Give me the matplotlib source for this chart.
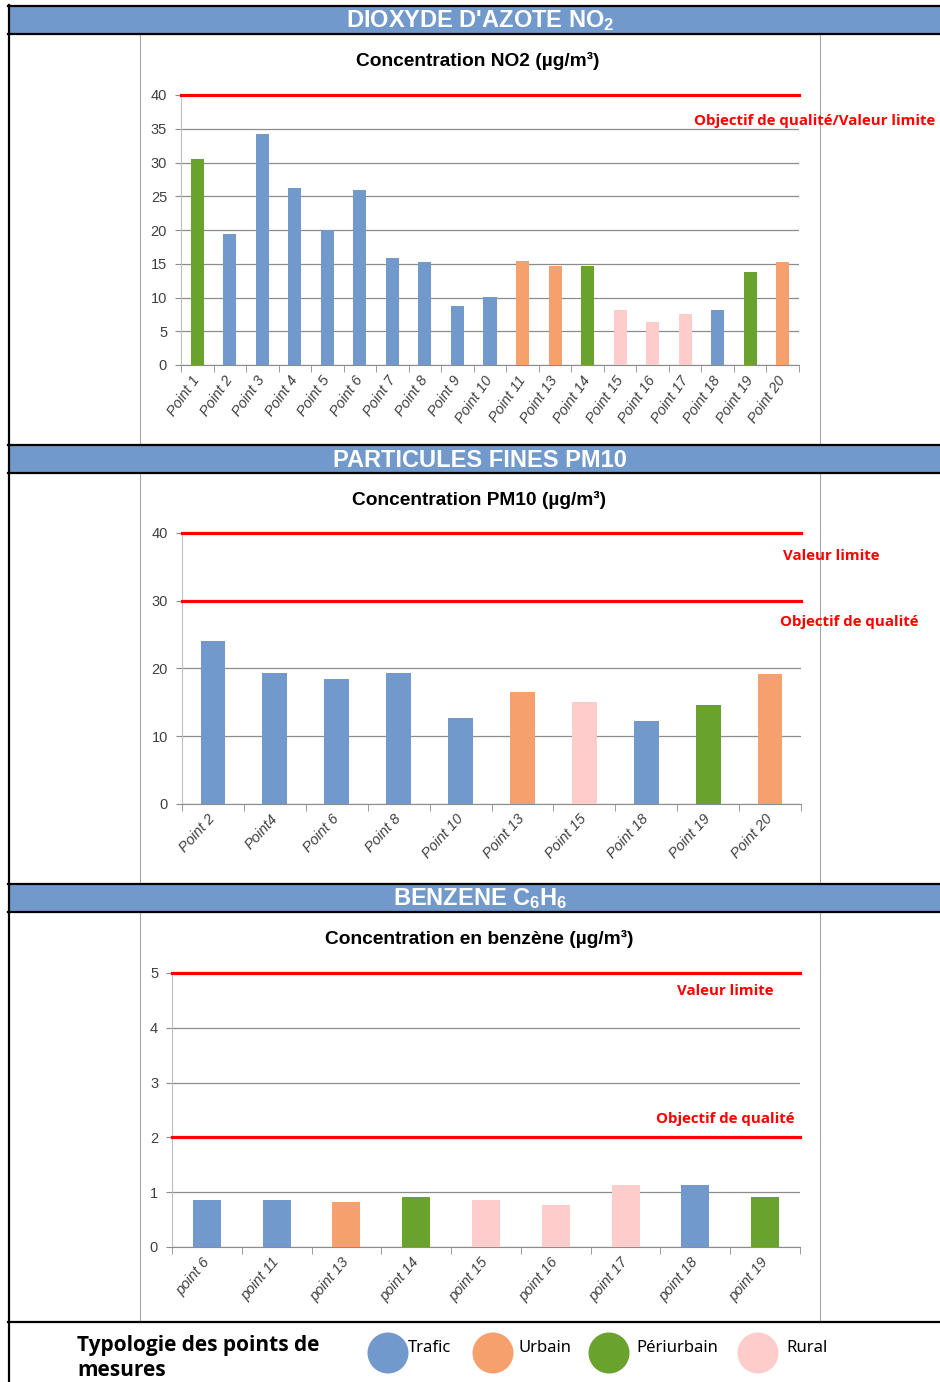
import numpy as np
import matplotlib.pyplot as plt
from matplotlib.patches import Rectangle, Circle

# Types of measuring points and their colours
types = ["Trafic", "Urbain", "Périurbain", "Rural"]
type_colors = {"Trafic": "#7299CC", "Urbain": "#F5A06D", "Périurbain": "#6AA22E", "Rural": "#FFCCCC"}

# NO2 data
no2_labels = ["Point 1", "Point 2", "Point 3", "Point 4", "Point 5", "Point 6", "Point 7", "Point 8",
              "Point 9", "Point 10", "Point 11", "Point 13", "Point 14", "Point 15", "Point 16",
              "Point 17", "Point 18", "Point 19", "Point 20"]
no2_values = [30.5, 19.4, 34.2, 26.2, 20.0, 26.0, 15.9, 15.3, 8.7, 10.1, 15.4, 14.7, 14.7,
              8.1, 6.4, 7.6, 8.2, 13.8, 15.2]
no2_types = ["Périurbain", "Trafic", "Trafic", "Trafic", "Trafic", "Trafic", "Trafic", "Trafic",
             "Trafic", "Trafic", "Urbain", "Urbain", "Périurbain", "Rural", "Rural", "Rural",
             "Trafic", "Périurbain", "Urbain"]
no2_limits = [40]

# PM10 data
pm10_labels = ["Point 2", "Point4", "Point 6", "Point 8", "Point 10", "Point 13", "Point 15",
               "Point 18", "Point 19", "Point 20"]
pm10_values = [24.0, 19.4, 18.5, 19.3, 12.7, 16.6, 15.0, 12.3, 14.6, 19.2]
pm10_types = ["Trafic", "Trafic", "Trafic", "Trafic", "Trafic", "Urbain", "Rural", "Trafic",
              "Périurbain", "Urbain"]
pm10_limits = [40, 30]

# Benzene data
benz_labels = ["point 6", "point 11", "point 13", "point 14", "point 15", "point 16", "point 17",
               "point 18", "point 19"]
benz_values = [0.86, 0.86, 0.83, 0.91, 0.86, 0.76, 1.13, 1.14, 0.91]
benz_types = ["Trafic", "Trafic", "Urbain", "Périurbain", "Rural", "Rural", "Rural", "Trafic",
              "Périurbain"]
benz_limits = [5, 2]

W, H = 940, 1382
fig = plt.figure(figsize=(W / 100, H / 100), dpi=100)
plt.rcParams['mathtext.default'] = 'regular'

# background axes in pixel units for the frames, headers and legend
bg = fig.add_axes([0, 0, 1, 1])
bg.set_xlim(0, W)
bg.set_ylim(H, 0)
bg.axis('off')

header_blue = "#7199CB"
headers = [(6, 34, "DIOXYDE D'AZOTE NO$_\\mathregular{2}$"),
           (445, 473, "PARTICULES FINES PM10"),
           (884, 912, "BENZENE C$_\\mathregular{6}$H$_\\mathregular{6}$")]
for top, bottom, text in headers:
    bg.add_patch(Rectangle((8, top), W - 8, bottom - top, facecolor=header_blue, edgecolor='none'))
    bg.plot([8, W], [top, top], color='black', lw=1.6)
    bg.plot([8, W], [bottom, bottom], color='black', lw=1.6)
    bg.text(480, (top + bottom) / 2 + 1, text, color='white', fontsize=17, fontweight='bold',
            family='Liberation Sans', ha='center', va='center')

# chart frames
for top, bottom in [(34, 444), (473, 883), (912, 1322)]:
    bg.add_patch(Rectangle((140, top), 680, bottom - top, facecolor='white', edgecolor='#a6a6a6', lw=0.8))

bg.plot([8, W], [1322, 1322], color='black', lw=1.6)
bg.plot([9, 9], [5, H], color='black', lw=1.6)


def px_axes(left, top, right, bottom):
    return fig.add_axes([left / W, 1 - bottom / H, (right - left) / W, (bottom - top) / H])


def draw_chart(ax, labels, values, kinds, ymax, ystep, limits, rot):
    x = np.arange(len(labels))
    ax.bar(x, values, width=0.4, color=[type_colors[k] for k in kinds], zorder=3)
    ax.set_xlim(-0.5, len(labels) - 0.5)
    ax.set_ylim(0, ymax)
    ax.set_yticks(np.arange(0, ymax + ystep / 2, ystep))
    ax.grid(axis='y', color='#8c8c8c', lw=0.9, zorder=0)
    for lim in limits:
        ax.axhline(lim, color='#FF0000', lw=2.3, zorder=4, clip_on=False)
    ax.set_xticks(x)
    ax.set_xticklabels(labels, rotation=rot, ha='right', va='center', rotation_mode='anchor',
                       style='italic', fontsize=10.5, color='#404040', family='Liberation Sans')
    ax.set_xticks(np.arange(-0.5, len(labels)), minor=True)
    ax.tick_params(axis='x', which='major', length=0, pad=9)
    ax.tick_params(axis='x', which='minor', length=5, color='#8c8c8c')
    ax.tick_params(axis='y', length=4, color='#8c8c8c', labelsize=10.5, labelcolor='#404040', pad=6)
    for lab in ax.get_yticklabels():
        lab.set_family('Liberation Sans')
    for s in ['top', 'right']:
        ax.spines[s].set_visible(False)
    ax.spines['left'].set_color('#bfbfbf')
    ax.spines['bottom'].set_color('#8c8c8c')
    ax.set_facecolor('none')


title_font = dict(fontsize=13.8, fontweight='bold', family='Liberation Sans', ha='center', va='center')
red_font = dict(fontsize=10.8, fontweight='bold', family='Open Sans', color='#FF0000', ha='left', va='center')

# NO2 chart
ax1 = px_axes(181, 95, 799, 365)
draw_chart(ax1, no2_labels, no2_values, no2_types, 40, 5, no2_limits, 55)
bg.text(478, 61, "Concentration NO2 (µg/m³)", **title_font)
bg.text(694, 121, "Objectif de qualité/Valeur limite", **red_font)

# PM10 chart
ax2 = px_axes(182, 533, 801, 804)
draw_chart(ax2, pm10_labels, pm10_values, pm10_types, 40, 10, pm10_limits, 48)
bg.text(479, 500, "Concentration PM10 (µg/m³)", **title_font)
bg.text(783, 556, "Valeur limite", **red_font)
bg.text(780, 622, "Objectif de qualité", **red_font)

# Benzene chart
ax3 = px_axes(172, 973, 800, 1247)
draw_chart(ax3, benz_labels, benz_values, benz_types, 5, 1, benz_limits, 50)
bg.text(479, 939, "Concentration en benzène (µg/m³)", **title_font)
bg.text(677, 991, "Valeur limite", **red_font)
bg.text(656, 1119, "Objectif de qualité", **red_font)

# legend row
bg.text(77, 1346, "Typologie des points de", fontsize=15, fontweight='bold', family='Open Sans', va='center')
bg.text(77, 1371, "mesures", fontsize=15, fontweight='bold', family='Open Sans', va='center')
circle_x = [388, 493, 609, 758]
text_x = [408, 519, 636, 786]
for t, cx, tx in zip(types, circle_x, text_x):
    bg.add_patch(Circle((cx, 1353), 20.5, facecolor=type_colors[t], edgecolor='none'))
    bg.text(tx, 1348, t, fontsize=12, family='Noto Sans', va='center')

fig.savefig("out.png", dpi=100)
